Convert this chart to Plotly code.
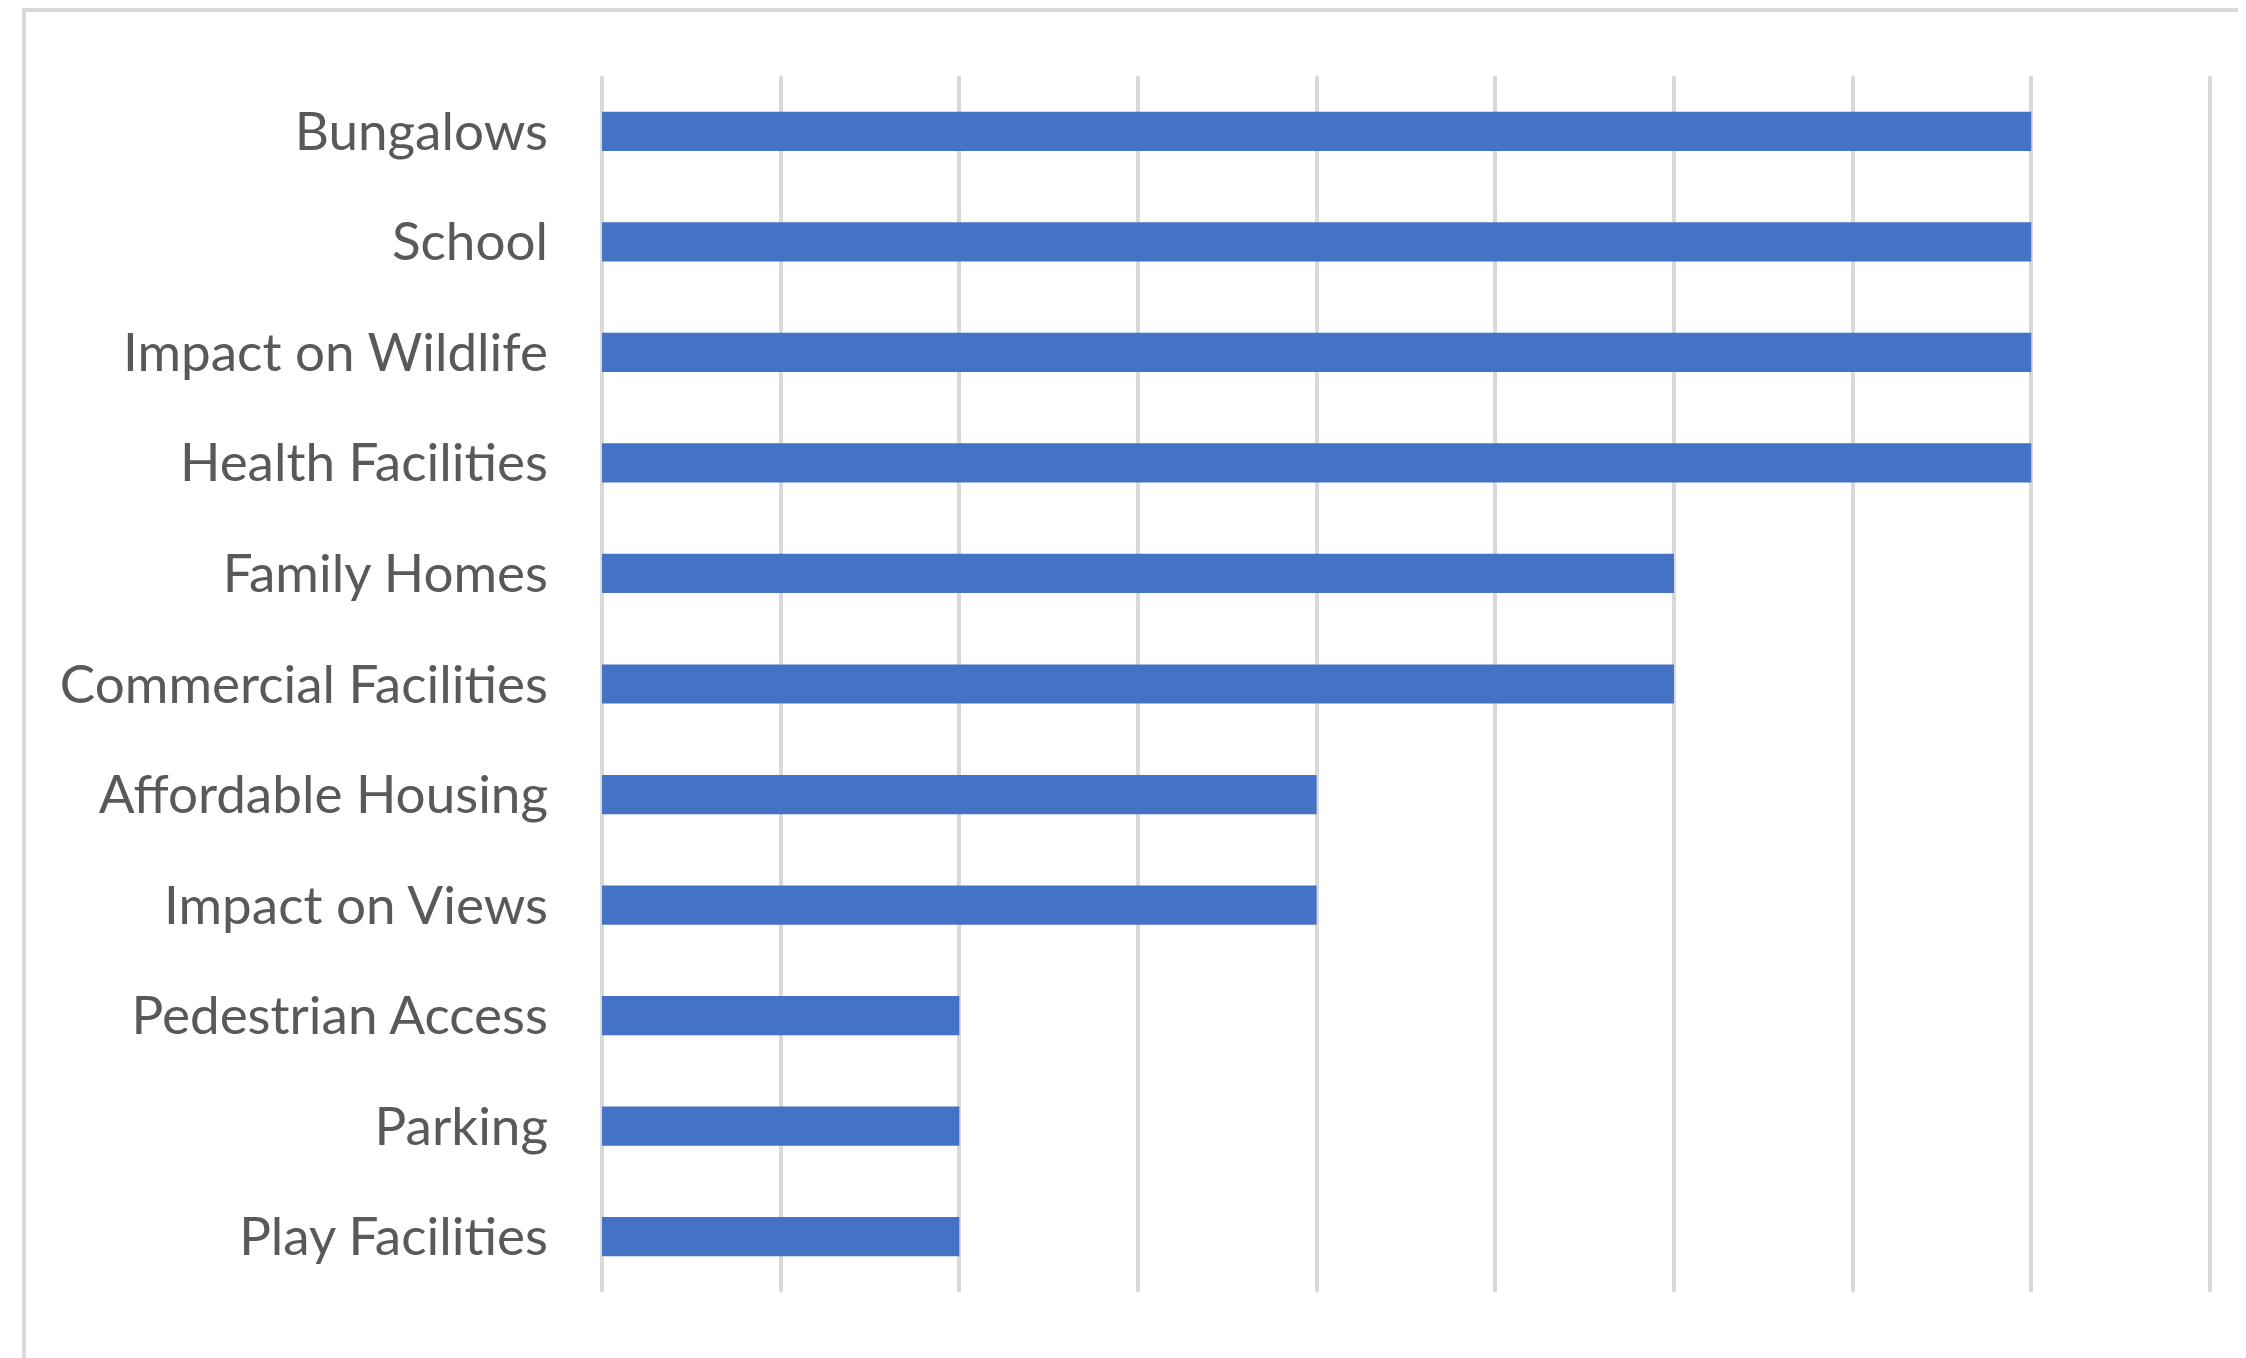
import plotly.graph_objects as go

categories = ["Play Facilities", "Parking", "Pedestrian Access", "Impact on Views",
              "Affordable Housing", "Commercial Facilities", "Family Homes",
              "Health Facilities", "Impact on Wildlife", "School", "Bungalows"]
values = [2, 2, 2, 4, 4, 6, 6, 8, 8, 8, 8]

# page has an 8px body margin; figure is sized so the layout lines up with the reference
W, H = 2238, 1350
L, R, T, B = 594, 35, 68, 66
pw = W - L - R
ph = H - T - B

fig = go.Figure(go.Bar(
    x=values, y=categories, orientation="h",
    marker=dict(color="#4472C4", line=dict(width=0)),
))

def px_x(p):
    return (p - L) / pw

def px_y(p):
    return (H - B - p) / ph

fig.update_layout(
    width=W, height=H,
    margin=dict(l=L, r=R, t=T, b=B, autoexpand=False),
    paper_bgcolor="white", plot_bgcolor="white",
    bargap=0.645,
    showlegend=False,
    xaxis=dict(range=[0, 9.006], dtick=1, tick0=0, showticklabels=False,
               showgrid=True, gridcolor="#d9d9d9", gridwidth=4,
               zeroline=True, zerolinecolor="#d9d9d9", zerolinewidth=4,
               showline=False, ticks=""),
    yaxis=dict(type="category", categoryorder="array", categoryarray=categories,
               showgrid=False, showline=False, ticks="", ticklabelstandoff=53,
               tickfont=dict(family="Lato", size=53, color="#595959")),
    shapes=[dict(type="rect", xref="paper", yref="paper",
                 x0=px_x(16), x1=px_x(2400), y0=px_y(1500), y1=px_y(2),
                 line=dict(color="#d9d9d9", width=4), fillcolor="rgba(0,0,0,0)",
                 layer="below")],
)

fig.write_html("out.html")
